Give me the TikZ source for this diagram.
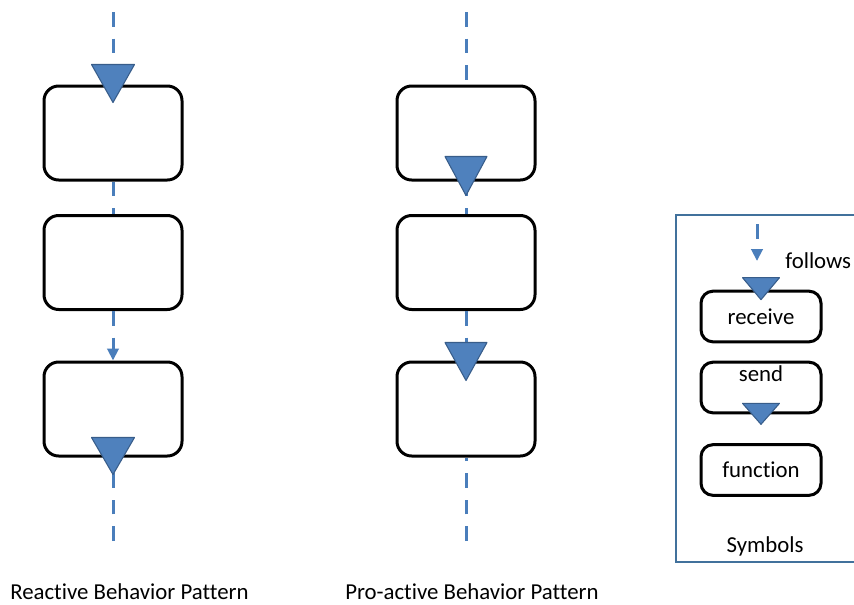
\documentclass[tikz,border=0pt]{standalone}
\usepackage{fontspec}
\setmainfont{Carlito}[Ligatures=NoCommon]
\usetikzlibrary{arrows.meta,calc}
\definecolor{flow}{RGB}{74,126,187}
\definecolor{msgfill}{RGB}{79,129,189}
\definecolor{msgedge}{RGB}{56,93,138}
\definecolor{legendframe}{RGB}{65,113,156}

% message triangle: #1 anchor point, #2 offset of the flat top, #3 offset of the apex, #4 half width
\newcommand\sigtri[4]{%
  \path[msg] ($(#1)+(-#4,#2)$) -- ($(#1)+(#4,#2)$) -- ($(#1)+(0,#3)$) -- cycle;}

\begin{document}
\begin{tikzpicture}[x=0.75pt,y=-0.75pt,
  stepbox/.style={draw=black, line width=2.25pt, rounded corners=11pt,
    minimum width=103.5pt, minimum height=70.5pt, inner sep=0pt},
  keybox/.style={draw=black, line width=2.25pt, rounded corners=9pt,
    minimum width=90pt, minimum height=38pt, inner sep=0pt, lbl},
  flowline/.style={draw=flow, line width=2.25pt, dash pattern=on 11pt off 9pt},
  follow/.style={flowline, -{Triangle[width=8.5pt,length=9pt]}},
  msg/.style={fill=msgfill, draw=msgedge, line width=0.8pt, line join=round},
  lbl/.style={font=\fontsize{17.1}{20}\selectfont, inner sep=0pt}
]
\useasboundingbox (0,0) rectangle (854,604);

% reactive pattern
\node[stepbox] (L1) at (113,133) {};
\node[stepbox] (L2) at (113,262.5) {};
\node[stepbox] (L3) at (113,409) {};
\coordinate (Ltop) at (113,12);
\coordinate (Lbot) at (113,541);
\draw[flowline] (Ltop) -- (L1.north);
\draw[flowline] (L1.south) -- (L2.north);
\draw[follow] (L2.south) -- (L3.north);
\draw[flowline] (Lbot) -- (L3.south);
\sigtri{L1.north}{-20}{18}{21.5}
\sigtri{L3.south}{-20}{17}{21.5}
\node[lbl, anchor=base west] (Lname) at (10,599) {Reactive Behavior Pattern};

% pro-active pattern
\node[stepbox] (P1) at (466,133) {};
\node[stepbox] (P2) at (466,262.5) {};
\node[stepbox] (P3) at (466,409) {};
\coordinate (Ptop) at (466,12);
\coordinate (Pbot) at (466,541);
\draw[flowline] (Ptop) -- (P1.north);
\draw[flowline] (P1.south) -- (P2.north);
\draw[flowline] (P2.south) -- (P3.north);
\draw[flowline] (Pbot) -- (P3.south);
\sigtri{P1.south}{-25}{14}{21}
\sigtri{P3.north}{-18}{20}{21}
\node[lbl, anchor=base west] (Pname) at (345,599) {Pro-active Behavior Pattern};

% legend
\draw[legendframe, line width=1.6pt] (856,215) -- (676,215) -- (676,562) -- (856,562);
\coordinate (fa) at (757,224);
\coordinate (fb) at (757,261);
\draw[follow] (fa) -- (fb);
\node[lbl, anchor=west] (ftext) at (785,261) {follows};
\node[keybox] (recv) at (761,316.5) {receive};
\sigtri{recv.north}{-12}{10}{18.5}
\node[keybox] (send) at (761,387.5) {};
\node[lbl] (sendtext) at ($(send.north)+(0,13)$) {send};
\sigtri{send.south}{-11}{10}{18.5}
\node[keybox] (func) at (761,470) {function};
\node[lbl] (symtext) at (765,546) {Symbols};
\end{tikzpicture}
\end{document}
